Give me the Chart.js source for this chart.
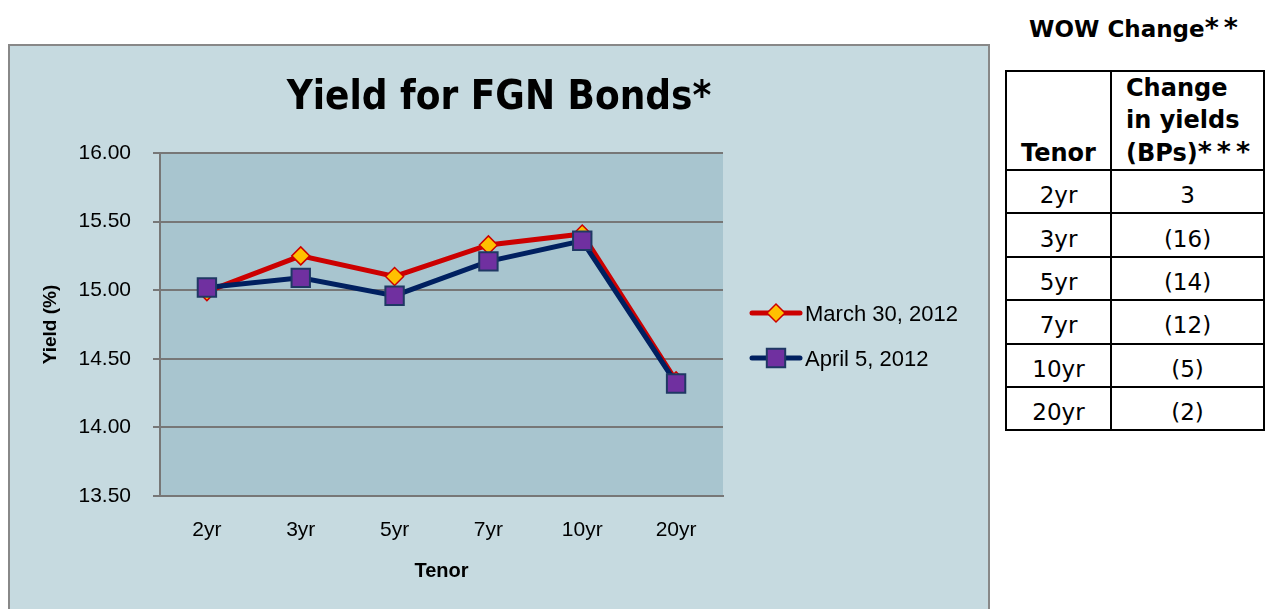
<!DOCTYPE html>
<html>
<head>
<meta charset="utf-8">
<script src="https://cdn.jsdelivr.net/npm/chart.js@4.4.1/dist/chart.umd.min.js"></script>
<style>
  body { margin: 0; background: #fff; width: 1266px; height: 609px; overflow: hidden; position: relative; }
  #box { position: absolute; left: 8px; top: 44px; width: 978px; height: 580px; border: 2px solid #888; background: #c6dae0; }
  #wow { position: absolute; left: 1003px; top: 12px; width: 266px; text-align: center; font: bold 23px "DejaVu Sans", sans-serif; }
  #wow span, .ast { letter-spacing: 5px; font-size: 27px; }
  table { position: absolute; left: 1005px; top: 70px; border-collapse: collapse; font: 23px "DejaVu Sans", sans-serif; }
  td, th { border: 2px solid #000; padding: 0; text-align: center; }
  th { font-weight: bold; font-size: 24px; height: 96px; line-height: 32px; padding: 0; vertical-align: bottom; box-sizing: border-box; }
  th.chg { text-align: left; padding-left: 14px; }
  td { height: 43.4px; vertical-align: middle; padding-top: 7px; box-sizing: border-box; }
</style>
</head>
<body>
<div id="box"><canvas id="chart" width="978" height="563"></canvas></div>
<div id="wow">WOW Change<span>**</span></div>
<table id="tbl">
  <thead><tr><th style="width:105px">Tenor</th><th class="chg" style="width:153px">Change<br>in yields<br>(BPs)<span class="ast">***</span></th></tr></thead>
  <tbody></tbody>
</table>
<script>
"use strict";

// 만기 구분
const tenors = ["2yr", "3yr", "5yr", "7yr", "10yr", "20yr"];
// 수익률 (%)
const march30 = [14.99, 15.25, 15.10, 15.33, 15.41, 14.34];
const april5 = [15.02, 15.09, 14.96, 15.21, 15.36, 14.32];
// 주간 변동 (bp)
const changeBps = [3, -16, -14, -12, -5, -2];
const yTicks = [13.5, 14.0, 14.5, 15.0, 15.5, 16.0];

function fmtBps(v) {
  return v < 0 ? "(" + Math.abs(v) + ")" : String(v);
}

// 오른쪽 표 채우기
const tbody = document.querySelector("#tbl tbody");
tenors.forEach((t, i) => {
  const tr = document.createElement("tr");
  tr.innerHTML = "<td>" + t + "</td><td>" + fmtBps(changeBps[i]) + "</td>";
  tbody.appendChild(tr);
});

// 플롯 영역 배경
const plotBg = {
  id: "plotBg",
  beforeDraw(chart) {
    const { ctx, chartArea: a } = chart;
    ctx.save();
    ctx.fillStyle = "#a8c5cf";
    ctx.fillRect(a.left, a.top, a.right - a.left, a.bottom - a.top);
    ctx.restore();
  }
};

// 선 + 마커 범례
const lineLegend = {
  id: "lineLegend",
  afterDraw(chart) {
    const { ctx, chartArea: a } = chart;
    const x0 = a.right + 29;
    chart.data.datasets.forEach((ds, i) => {
      const y = 267 + i * 45;
      ctx.save();
      ctx.strokeStyle = ds.borderColor;
      ctx.lineWidth = 5;
      ctx.lineCap = "round";
      ctx.beginPath();
      ctx.moveTo(x0, y);
      ctx.lineTo(x0 + 48, y);
      ctx.stroke();
      ctx.fillStyle = ds.pointBackgroundColor;
      ctx.strokeStyle = ds.pointBorderColor;
      ctx.lineWidth = ds.pointBorderWidth;
      Chart.helpers.drawPoint(ctx, {
        pointStyle: ds.pointStyle,
        radius: ds.pointRadius,
        rotation: 0,
        borderWidth: ds.pointBorderWidth
      }, x0 + 24, y);
      ctx.fillStyle = "#000";
      ctx.font = "22px 'Liberation Sans', Arial, sans-serif";
      ctx.textBaseline = "middle";
      ctx.fillText(ds.label, x0 + 53, y + 2);
      ctx.restore();
    });
  }
};

new Chart(document.getElementById("chart"), {
  type: "line",
  data: {
    labels: tenors,
    datasets: [
      {
        label: "March 30, 2012",
        data: march30,
        order: 2,
        borderColor: "#cc0000",
        borderWidth: 5,
        pointStyle: "rectRot",
        pointRadius: 9,
        pointBackgroundColor: "#ffc000",
        pointBorderColor: "#cc0000",
        pointBorderWidth: 1.5,
        tension: 0
      },
      {
        label: "April 5, 2012",
        data: april5,
        order: 1,
        borderColor: "#002060",
        borderWidth: 5,
        pointStyle: "rect",
        pointRadius: 13,
        pointBackgroundColor: "#7030a0",
        pointBorderColor: "#1f3864",
        pointBorderWidth: 2,
        tension: 0
      }
    ]
  },
  options: {
    responsive: false,
    animation: false,
    layout: { padding: 0 },
    plugins: {
      legend: { display: false },
      tooltip: { enabled: false },
      title: {
        display: true,
        text: "Yield for FGN Bonds*",
        color: "#000",
        font: { family: "'DejaVu Sans Condensed', 'Liberation Sans', sans-serif", size: 40, weight: "bold", lineHeight: 1.2 },
        padding: { top: 29, bottom: 30 }
      }
    },
    scales: {
      x: {
        offset: true,
        grid: { display: false, drawTicks: false },
        border: { display: true, color: "#777", width: 2 },
        ticks: { color: "#000", padding: 22, font: { family: "'Liberation Sans', Arial, sans-serif", size: 21 } },
        title: {
          display: true,
          text: "Tenor",
          color: "#000",
          font: { family: "'Liberation Sans', Arial, sans-serif", size: 20, weight: "bold", lineHeight: 1.2 },
          padding: { top: 0, bottom: 26 }
        },
        afterFit(scale) { scale.height = 113; }
      },
      y: {
        min: 13.5,
        max: 16,
        afterBuildTicks(scale) { scale.ticks = yTicks.map(v => ({ value: v })); },
        grid: { color: "#777", lineWidth: 2, tickLength: 7, drawTicks: true },
        border: { display: true, color: "#777", width: 2 },
        ticks: {
          color: "#000",
          padding: 22,
          font: { family: "'Liberation Sans', Arial, sans-serif", size: 21 },
          callback: v => Number(v).toFixed(2)
        },
        title: {
          display: true,
          text: "Yield (%)",
          color: "#000",
          font: { family: "'Liberation Sans', Arial, sans-serif", size: 19, weight: "bold", lineHeight: 1.2 },
          padding: { top: 29, bottom: 0 }
        },
        afterFit(scale) { scale.width = 150; }
      },
      // 범례 자리 확보용 빈 축
      legendSpace: {
        type: "linear",
        position: "right",
        display: true,
        grid: { display: false, drawTicks: false },
        border: { display: false },
        ticks: { display: false },
        afterFit(scale) { scale.width = 265; }
      }
    }
  },
  plugins: [plotBg, lineLegend]
});
</script>
</body>
</html>
